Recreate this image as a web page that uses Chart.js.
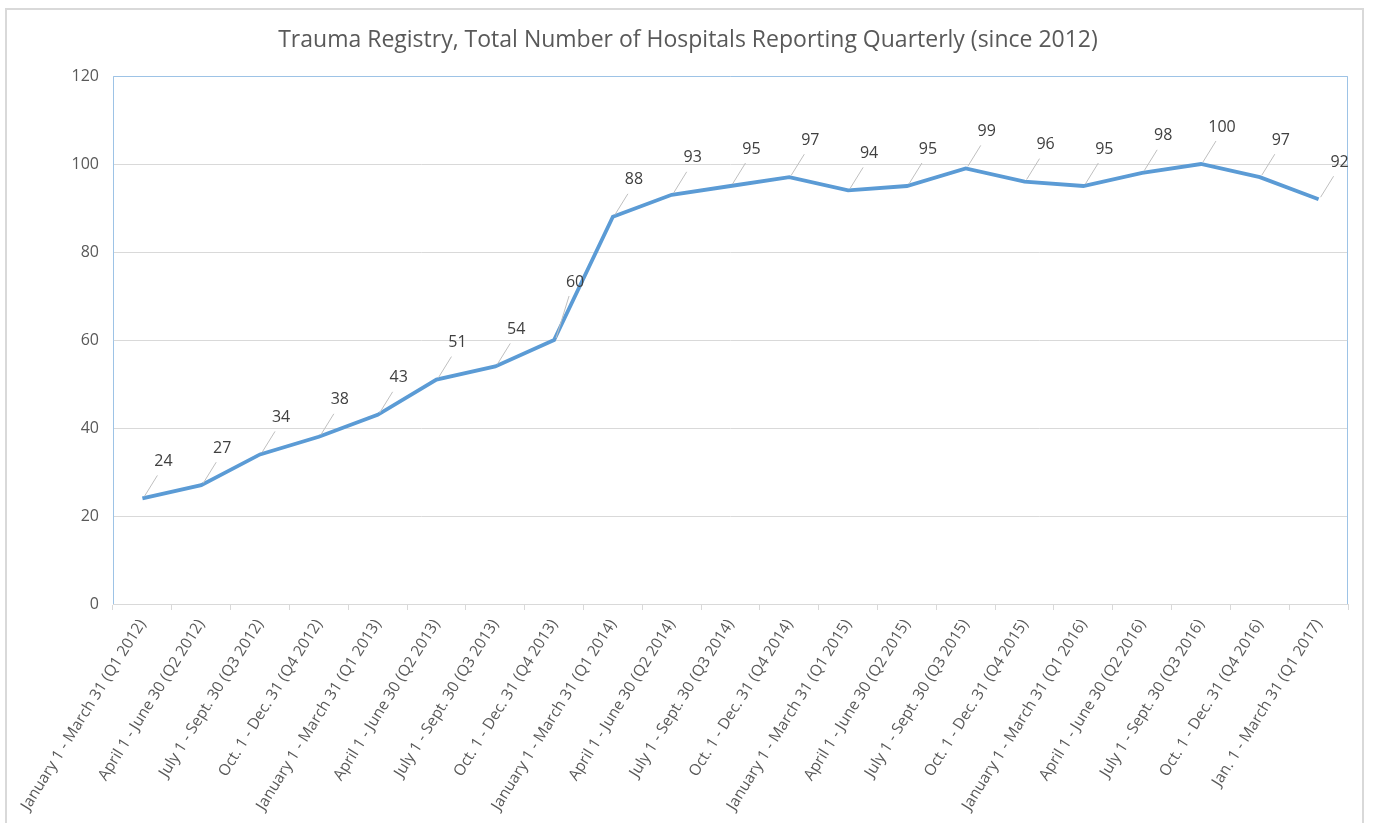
<!DOCTYPE html>
<html>
<head>
<meta charset="utf-8">
<script src="https://cdn.jsdelivr.net/npm/chart.js@4"></script>
<style>
  html, body { margin:0; padding:0; background:#fff; overflow:hidden; }
  #frame { position:absolute; left:5px; top:8px; width:1359px; height:900px; border:2px solid #d9d9d9; box-sizing:border-box; }
  #wrap { position:absolute; left:0; top:0; width:1376px; height:823px; }
</style>
</head>
<body>
<div id="frame"></div>
<div id="wrap"><canvas id="c" width="1376" height="823"></canvas></div>
<script>
const chartTitle = "Trauma Registry, Total Number of Hospitals Reporting Quarterly (since 2012)";
const categories = [
  "January 1 - March 31 (Q1 2012)",
  "April 1 - June 30 (Q2 2012)",
  "July 1 - Sept. 30 (Q3 2012)",
  "Oct. 1 - Dec. 31 (Q4 2012)",
  "January 1 - March 31 (Q1 2013)",
  "April 1 - June 30 (Q2 2013)",
  "July 1 - Sept. 30 (Q3 2013)",
  "Oct. 1 - Dec. 31 (Q4 2013)",
  "January 1 - March 31 (Q1 2014)",
  "April 1 - June 30 (Q2 2014)",
  "July 1 - Sept. 30 (Q3 2014)",
  "Oct. 1 - Dec. 31 (Q4 2014)",
  "January 1 - March 31 (Q1 2015)",
  "April 1 - June 30 (Q2 2015)",
  "July 1 - Sept. 30 (Q3 2015)",
  "Oct. 1 - Dec. 31 (Q4 2015)",
  "January 1 - March 31 (Q1 2016)",
  "April 1 - June 30 (Q2 2016)",
  "July 1 - Sept. 30 (Q3 2016)",
  "Oct. 1 - Dec. 31 (Q4 2016)",
  "Jan. 1 - March 31 (Q1 2017)"
];
const hospitals = [24, 27, 34, 38, 43, 51, 54, 60, 88, 93, 95, 97, 94, 95, 99, 96, 95, 98, 100, 97, 92];
const yMin = 0, yMax = 120, yStep = 20;

const FONT = "'Open Sans', 'Noto Sans', sans-serif";
const TEXT = '#595959';

const areaPlugin = {
  id: 'areaBorder',
  beforeDatasetsDraw(chart) {
    const {ctx, chartArea: a} = chart;
    ctx.save();
    ctx.strokeStyle = '#9dc3e6';
    ctx.lineWidth = 1;
    ctx.beginPath();
    ctx.moveTo(a.left + 0.5, a.bottom);
    ctx.lineTo(a.left + 0.5, a.top + 0.5);
    ctx.lineTo(a.right - 0.5, a.top + 0.5);
    ctx.lineTo(a.right - 0.5, a.bottom);
    ctx.stroke();
    ctx.restore();
  }
};

const titlePlugin = {
  id: 'customTitle',
  afterDraw(chart) {
    const ctx = chart.ctx;
    ctx.save();
    ctx.font = "23px " + FONT;
    ctx.fillStyle = TEXT;
    ctx.textAlign = 'center';
    ctx.textBaseline = 'middle';
    ctx.fillText(chartTitle, 688, 40);
    ctx.restore();
  }
};

const labelPlugin = {
  id: 'dataLabels',
  afterDatasetsDraw(chart) {
    const ctx = chart.ctx;
    const pts = chart.getDatasetMeta(0).data;
    ctx.save();
    ctx.font = "16px " + FONT;
    ctx.fillStyle = '#404040';
    ctx.textAlign = 'center';
    ctx.textBaseline = 'middle';
    pts.forEach((pt, i) => {
      const lx = pt.x + 21;
      let ly = pt.y - 37;
      const nx = pts[i + 1];
      if (nx) {
        const lineY = pt.y + (nx.y - pt.y) * (lx - pt.x) / (nx.x - pt.x);
        ly = Math.min(ly, lineY - 14);
      }
      ctx.strokeStyle = '#bfbfbf';
      ctx.lineWidth = 1;
      ctx.beginPath();
      ctx.moveTo(pt.x + 2, pt.y - 2);
      ctx.lineTo(lx - 6, ly + 14);
      ctx.stroke();
      ctx.fillText(String(hospitals[i]), lx, ly);
    });
    ctx.restore();
  }
};

new Chart(document.getElementById('c'), {
  type: 'line',
  data: {
    labels: categories,
    datasets: [{
      data: hospitals,
      borderColor: '#5b9bd5',
      borderWidth: 3.8,
      pointRadius: 0,
      tension: 0,
      fill: false
    }]
  },
  options: {
    responsive: false,
    animation: false,
    layout: { padding: { top: 76, right: 28, left: 0, bottom: 0 } },
    plugins: { legend: { display: false }, title: { display: false }, tooltip: { enabled: false } },
    scales: {
      x: {
        offset: true,
        grid: { offset: true, drawOnChartArea: false, drawTicks: true, tickLength: 6, color: '#d9d9d9' },
        border: { color: '#d9d9d9', width: 1 },
        ticks: {
          autoSkip: false, minRotation: 58, maxRotation: 58,
          color: TEXT, font: { family: FONT, size: 15.5 }, padding: 6
        },
        afterFit(scale) { scale.height = 823 - 604; }
      },
      y: {
        min: yMin, max: yMax,
        ticks: { stepSize: yStep, color: TEXT, font: { family: FONT, size: 16 }, padding: 14 },
        grid: { color: '#d9d9d9', drawTicks: false, lineWidth: 1 },
        border: { display: false },
        afterFit(scale) { scale.width = 113; }
      }
    }
  },
  plugins: [areaPlugin, labelPlugin, titlePlugin]
});
</script>
</body>
</html>
